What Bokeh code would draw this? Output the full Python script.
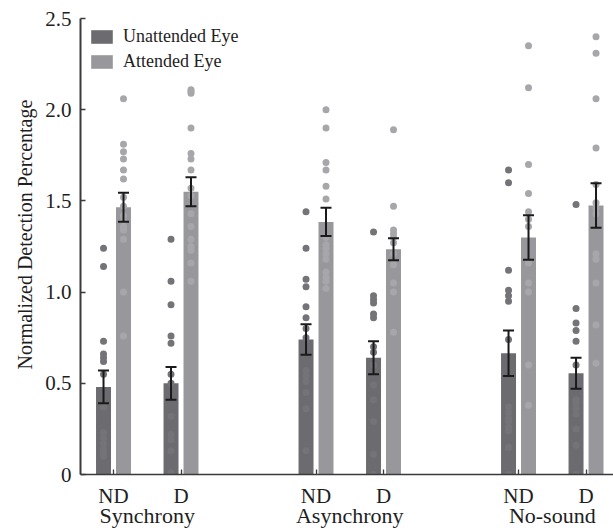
from bokeh.plotting import figure
from bokeh.models import (ColumnDataSource, Whisker, LinearAxis, FixedTicker, Range1d,
                          Legend, LegendItem, TeeHead, Title)
from bokeh.embed import file_html
from bokeh.resources import INLINE

# ---------------- data ----------------
conditions = ["Synchrony", "Asynchrony", "No-sound"]
tick_labels = ["ND", "D", "ND", "D", "ND", "D"]
positions = [1, 2, 4, 5, 7, 8]
group_positions = [1.5, 4.5, 7.5]

unatt_mean = [0.48, 0.50, 0.74, 0.64, 0.665, 0.555]
unatt_se = [0.09, 0.09, 0.084, 0.09, 0.125, 0.085]
att_mean = [1.465, 1.55, 1.385, 1.235, 1.30, 1.475]
att_se = [0.079, 0.08, 0.078, 0.06, 0.122, 0.122]

unatt_points = [
    [1.24, 1.14, 0.73, 0.66, 0.64, 0.62, 0.55, 0.37, 0.23, 0.20, 0.17, 0.14, 0.12, 0.10],
    [1.29, 1.06, 0.93, 0.76, 0.72, 0.55, 0.50, 0.32, 0.22, 0.19, 0.13, 0.01],
    [1.44, 1.24, 1.07, 1.03, 0.92, 0.86, 0.80, 0.75, 0.57, 0.54, 0.51, 0.45, 0.36, 0.13],
    [1.33, 0.98, 0.96, 0.94, 0.88, 0.86, 0.70, 0.67, 0.60, 0.49, 0.41, 0.29, 0.11, 0.00],
    [1.67, 1.60, 1.12, 1.01, 0.98, 0.95, 0.74, 0.37, 0.34, 0.31, 0.29, 0.26, 0.24, 0.15, 0.00],
    [1.48, 0.91, 0.83, 0.79, 0.73, 0.60, 0.41, 0.39, 0.36, 0.33, 0.25, 0.16, 0.00],
]
att_points = [
    [2.06, 1.81, 1.77, 1.73, 1.67, 1.62, 1.52, 1.47, 1.42, 1.39, 1.36, 1.34, 1.29, 1.00, 0.76],
    [2.11, 2.10, 2.09, 1.90, 1.76, 1.73, 1.67, 1.57, 1.53, 1.43, 1.36, 1.29, 1.25, 1.23, 1.16, 1.06],
    [2.00, 1.90, 1.71, 1.67, 1.58, 1.51, 1.30, 1.26, 1.24, 1.21, 1.18, 1.11, 1.08, 1.06, 1.02],
    [1.89, 1.47, 1.34, 1.32, 1.30, 1.27, 1.21, 1.15, 1.05, 1.00, 0.78],
    [2.35, 2.12, 1.70, 1.54, 1.44, 1.40, 1.36, 1.16, 1.05, 1.00, 0.60, 0.38],
    [2.40, 2.31, 2.06, 1.79, 1.59, 1.49, 1.46, 1.43, 1.21, 1.18, 1.05, 0.82, 0.61],
]

y_ticks = [0, 0.5, 1.0, 1.5, 2.0, 2.5]
y_title = "Normalized Detection Percentage"

# ---------------- styling ----------------
FONT = "Liberation Serif"
TEXT = "#1e1e1e"
AXIS = "#3a3a3a"
UNATT_BAR = "#6c6c70"
ATT_BAR = "#98989c"
UNATT_DOT = "#747478"
ATT_DOT = "#a7a7ab"
OFF = 0.148
BW = 0.222

p = figure(width=613, height=530, output_backend="svg", toolbar_location=None,
           x_range=Range1d(0.511, 8.407), y_range=Range1d(0, 2.5),
           min_border_left=80, min_border_right=0, min_border_top=18, min_border_bottom=0)
p.outline_line_color = None
p.grid.visible = False
p.background_fill_color = "white"
p.border_fill_color = "white"

ux = [x - OFF for x in positions]
axx = [x + OFF for x in positions]

ubar = p.vbar(x=ux, top=unatt_mean, width=BW, fill_color=UNATT_BAR, line_color=None)
abar = p.vbar(x=axx, top=att_mean, width=BW, fill_color=ATT_BAR, line_color=None)

# individual points
upx, upy, apx, apy = [], [], [], []
for i in range(6):
    upx += [ux[i]] * len(unatt_points[i])
    upy += unatt_points[i]
    apx += [axx[i]] * len(att_points[i])
    apy += att_points[i]
p.scatter(x=upx, y=upy, size=7, fill_color=UNATT_DOT, line_color=None)
p.scatter(x=apx, y=apy, size=7, fill_color=ATT_DOT, line_color=None)

# error bars
ex = ux + axx
em = unatt_mean + att_mean
es = unatt_se + att_se
esrc = ColumnDataSource(dict(x=ex, lo=[m - s for m, s in zip(em, es)], hi=[m + s for m, s in zip(em, es)]))
w = Whisker(base="x", lower="lo", upper="hi", source=esrc, line_color="#1a1a1a", line_width=2,
            upper_head=TeeHead(size=11, line_color="#1a1a1a", line_width=2),
            lower_head=TeeHead(size=11, line_color="#1a1a1a", line_width=2))
w.level = "overlay"
p.add_layout(w)

# axes
xa = p.xaxis[0]
xa.ticker = FixedTicker(ticks=positions)
xa.major_label_overrides = {pos: lab for pos, lab in zip(positions, tick_labels)}
xa.major_tick_in = 5
xa.major_tick_out = 0
xa.minor_tick_line_color = None
xa.axis_line_color = AXIS
xa.axis_line_width = 1.6
xa.major_tick_line_color = AXIS
xa.major_tick_line_width = 1.3
xa.major_label_text_font = FONT
xa.major_label_text_font_size = "21px"
xa.major_label_text_color = TEXT
xa.major_label_standoff = 9

ga = LinearAxis(ticker=FixedTicker(ticks=group_positions),
                major_label_overrides={pos: lab for pos, lab in zip(group_positions, conditions)})
ga.axis_line_color = None
ga.major_tick_line_color = None
ga.minor_tick_line_color = None
ga.major_tick_in = 0
ga.major_tick_out = 0
ga.major_label_standoff = -8
ga.major_label_text_font = FONT
ga.major_label_text_font_size = "22px"
ga.major_label_text_color = TEXT
p.add_layout(ga, "below")

ya = p.yaxis[0]
ya.ticker = FixedTicker(ticks=y_ticks)
ya.major_label_overrides = {0: "0", 0.5: "0.5", 1.0: "1.0", 1.5: "1.5", 2.0: "2.0", 2.5: "2.5"}
ya.major_tick_in = 5
ya.major_tick_out = 0
ya.minor_tick_line_color = None
ya.axis_line_color = AXIS
ya.axis_line_width = 2
ya.major_tick_line_color = AXIS
ya.major_tick_line_width = 1.5
ya.major_label_text_font = FONT
ya.major_label_text_font_size = "21px"
ya.major_label_text_color = TEXT
ya.major_label_standoff = 9

yt = Title(text=y_title, align="left", offset=105, standoff=13,
           text_font=FONT, text_font_size="20px", text_font_style="normal", text_color=TEXT)
p.add_layout(yt, "left")

legend = Legend(items=[LegendItem(label="Unattended Eye", renderers=[ubar]),
                       LegendItem(label="Attended Eye", renderers=[abar])],
                location="top_left")
legend.glyph_width = 27
legend.glyph_height = 17
legend.label_text_font = FONT
legend.label_text_font_size = "18px"
legend.label_text_color = TEXT
legend.label_standoff = 8
legend.spacing = 4
legend.padding = 0
legend.margin = 8
legend.border_line_alpha = 0
legend.background_fill_alpha = 0
p.add_layout(legend)

open("out.html", "w").write(file_html(p, INLINE))
